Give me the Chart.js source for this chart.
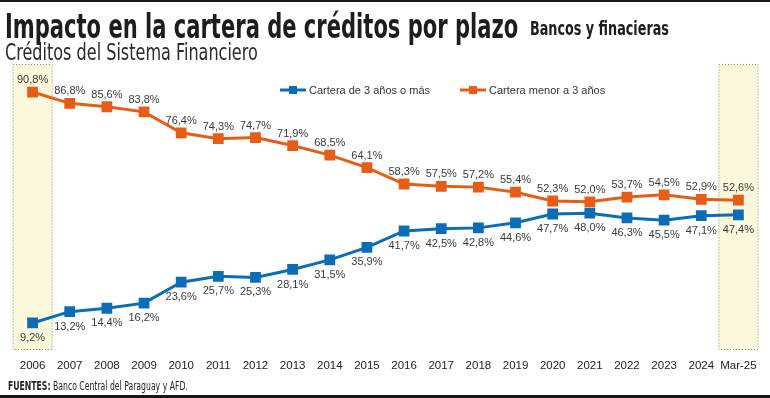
<!DOCTYPE html>
<html>
<head>
<meta charset="utf-8">
<script src="https://cdn.jsdelivr.net/npm/chart.js@4.4.1/dist/chart.umd.min.js"></script>
<style>
    html, body { margin: 0; padding: 0; background: #fff; }
    #wrap { position: relative; width: 770px; height: 398px; overflow: hidden; background: #fff; }
    #chart { position: absolute; left: 0; top: 0; }
    .bar { position: absolute; left: 0; width: 770px; background: #1a1716; }
    .txt { position: absolute; white-space: nowrap; transform-origin: 0 0; color: #1d1d1b; line-height: 1; }
    #title { left: 5px; top: 6px; font: bold 34px "DejaVu Sans Condensed", "DejaVu Sans", sans-serif; }
    #sub2 { left: 530px; top: 17px; font: bold 19px "DejaVu Sans Condensed", "DejaVu Sans", sans-serif; }
    #subtitle { left: 5px; top: 39px; font: 23px "DejaVu Sans Condensed", "DejaVu Sans", sans-serif; color: #2a2a2a; }
    #footer { left: 8px; top: 378px; font: 12.5px "DejaVu Sans Condensed", "DejaVu Sans", sans-serif; color: #222; }
</style>
</head>
<body>
<div id="wrap">
    <canvas id="chart" width="770" height="398"></canvas>
    <div class="bar" style="top:0;height:2px"></div>
    <div class="bar" style="top:395px;height:3px"></div>
    <div class="txt" id="title">Impacto en la cartera de créditos por plazo</div>
    <div class="txt" id="sub2">Bancos y finacieras</div>
    <div class="txt" id="subtitle">Créditos del Sistema Financiero</div>
    <div class="txt" id="footer"><b>FUENTES:</b> Banco Central del Paraguay y AFD.</div>
</div>
<script>
const years = ['2006', '2007', '2008', '2009', '2010', '2011', '2012', '2013', '2014', '2015',
    '2016', '2017', '2018', '2019', '2020', '2021', '2022', '2023', '2024', 'Mar-25'];
const largoPlazo = [9.2, 13.2, 14.4, 16.2, 23.6, 25.7, 25.3, 28.1, 31.5, 35.9,
    41.7, 42.5, 42.8, 44.6, 47.7, 48.0, 46.3, 45.5, 47.1, 47.4];
const cortoPlazo = [90.8, 86.8, 85.6, 83.8, 76.4, 74.3, 74.7, 71.9, 68.5, 64.1,
    58.3, 57.5, 57.2, 55.4, 52.3, 52.0, 53.7, 54.5, 52.9, 52.6];
const highlighted = ['2006', 'Mar-25'];
const seriesNames = ['Cartera de 3 años o más', 'Cartera menor a 3 años'];

const BLUE = '#0b6db6';
const ORANGE = '#e75d17';

// stretch the condensed headings to the widths in the print
function fitWidth(id, target) {
    const el = document.getElementById(id);
    el.style.transform = 'scaleX(' + (target / el.offsetWidth) + ')';
}
fitWidth('title', 513);
fitWidth('sub2', 139);
fitWidth('subtitle', 253);
fitWidth('footer', 180);

const fmt = v => v.toFixed(1).replace('.', ',') + '%';

// yellow dotted boxes behind the first and last year
const highlightBoxes = {
    id: 'highlightBoxes',
    beforeDatasetsDraw(chart) {
        const ctx = chart.ctx, area = chart.chartArea, x = chart.scales.x;
        ctx.save();
        highlighted.forEach(label => {
            const cx = x.getPixelForValue(years.indexOf(label));
            ctx.fillStyle = '#fcf8dc';
            ctx.fillRect(cx - 20, area.top - 2, 40, area.bottom - area.top + 3);
            ctx.setLineDash([1, 2]);
            ctx.strokeStyle = '#8a8a80';
            ctx.lineWidth = 1;
            ctx.strokeRect(cx - 20 + 0.5, area.top - 2 + 0.5, 39, area.bottom - area.top + 2);
        });
        ctx.restore();
    }
};

// value labels and the legend inside the plot
const labelsAndLegend = {
    id: 'labelsAndLegend',
    afterDatasetsDraw(chart) {
        const ctx = chart.ctx;
        ctx.save();
        ctx.font = '11px "Liberation Sans", Arial, sans-serif';
        ctx.fillStyle = '#3a3a3a';
        ctx.textAlign = 'center';
        ctx.textBaseline = 'middle';
        chart.getDatasetMeta(0).data.forEach((pt, i) => {
            ctx.fillText(fmt(largoPlazo[i]), pt.x, pt.y + 15);
        });
        chart.getDatasetMeta(1).data.forEach((pt, i) => {
            ctx.fillText(fmt(cortoPlazo[i]), pt.x, pt.y - 12);
        });

        const items = [[280, BLUE, seriesNames[0]], [460, ORANGE, seriesNames[1]]];
        const ly = 90;
        ctx.textAlign = 'left';
        ctx.font = '11px "Liberation Sans", Arial, sans-serif';
        items.forEach(([lx, color, name]) => {
            ctx.strokeStyle = color;
            ctx.lineWidth = 3;
            ctx.beginPath();
            ctx.moveTo(lx, ly);
            ctx.lineTo(lx + 26, ly);
            ctx.stroke();
            ctx.fillStyle = color;
            ctx.fillRect(lx + 9, ly - 4, 8, 8);
            ctx.fillStyle = '#333';
            ctx.fillText(name, lx + 29, ly + 1);
        });
        ctx.restore();
    }
};

new Chart(document.getElementById('chart'), {
    type: 'line',
    data: {
        labels: years,
        datasets: [
            {
                label: seriesNames[0],
                data: largoPlazo,
                borderColor: BLUE,
                backgroundColor: BLUE,
                borderWidth: 3,
                pointStyle: 'rect',
                pointRadius: 5.5,
                tension: 0,
                fill: false
            },
            {
                label: seriesNames[1],
                data: cortoPlazo,
                borderColor: ORANGE,
                backgroundColor: ORANGE,
                borderWidth: 3,
                pointStyle: 'rect',
                pointRadius: 5.5,
                tension: 0,
                fill: false
            }
        ]
    },
    options: {
        responsive: false,
        animation: false,
        layout: { padding: { top: 66, left: 14, right: 13, bottom: 25 } },
        plugins: {
            legend: { display: false },
            tooltip: { enabled: false }
        },
        scales: {
            x: {
                offset: true,
                grid: { display: false, drawTicks: false },
                border: { display: false },
                afterFit: scale => { scale.height = 24; },
                ticks: {
                    color: '#222',
                    padding: 10,
                    autoSkip: false,
                    maxRotation: 0,
                    font: { family: '"Liberation Sans", Arial, sans-serif', size: 11.5 }
                }
            },
            y: {
                display: false,
                min: 0,
                max: 100
            }
        }
    },
    plugins: [highlightBoxes, labelsAndLegend]
});
</script>
</body>
</html>
